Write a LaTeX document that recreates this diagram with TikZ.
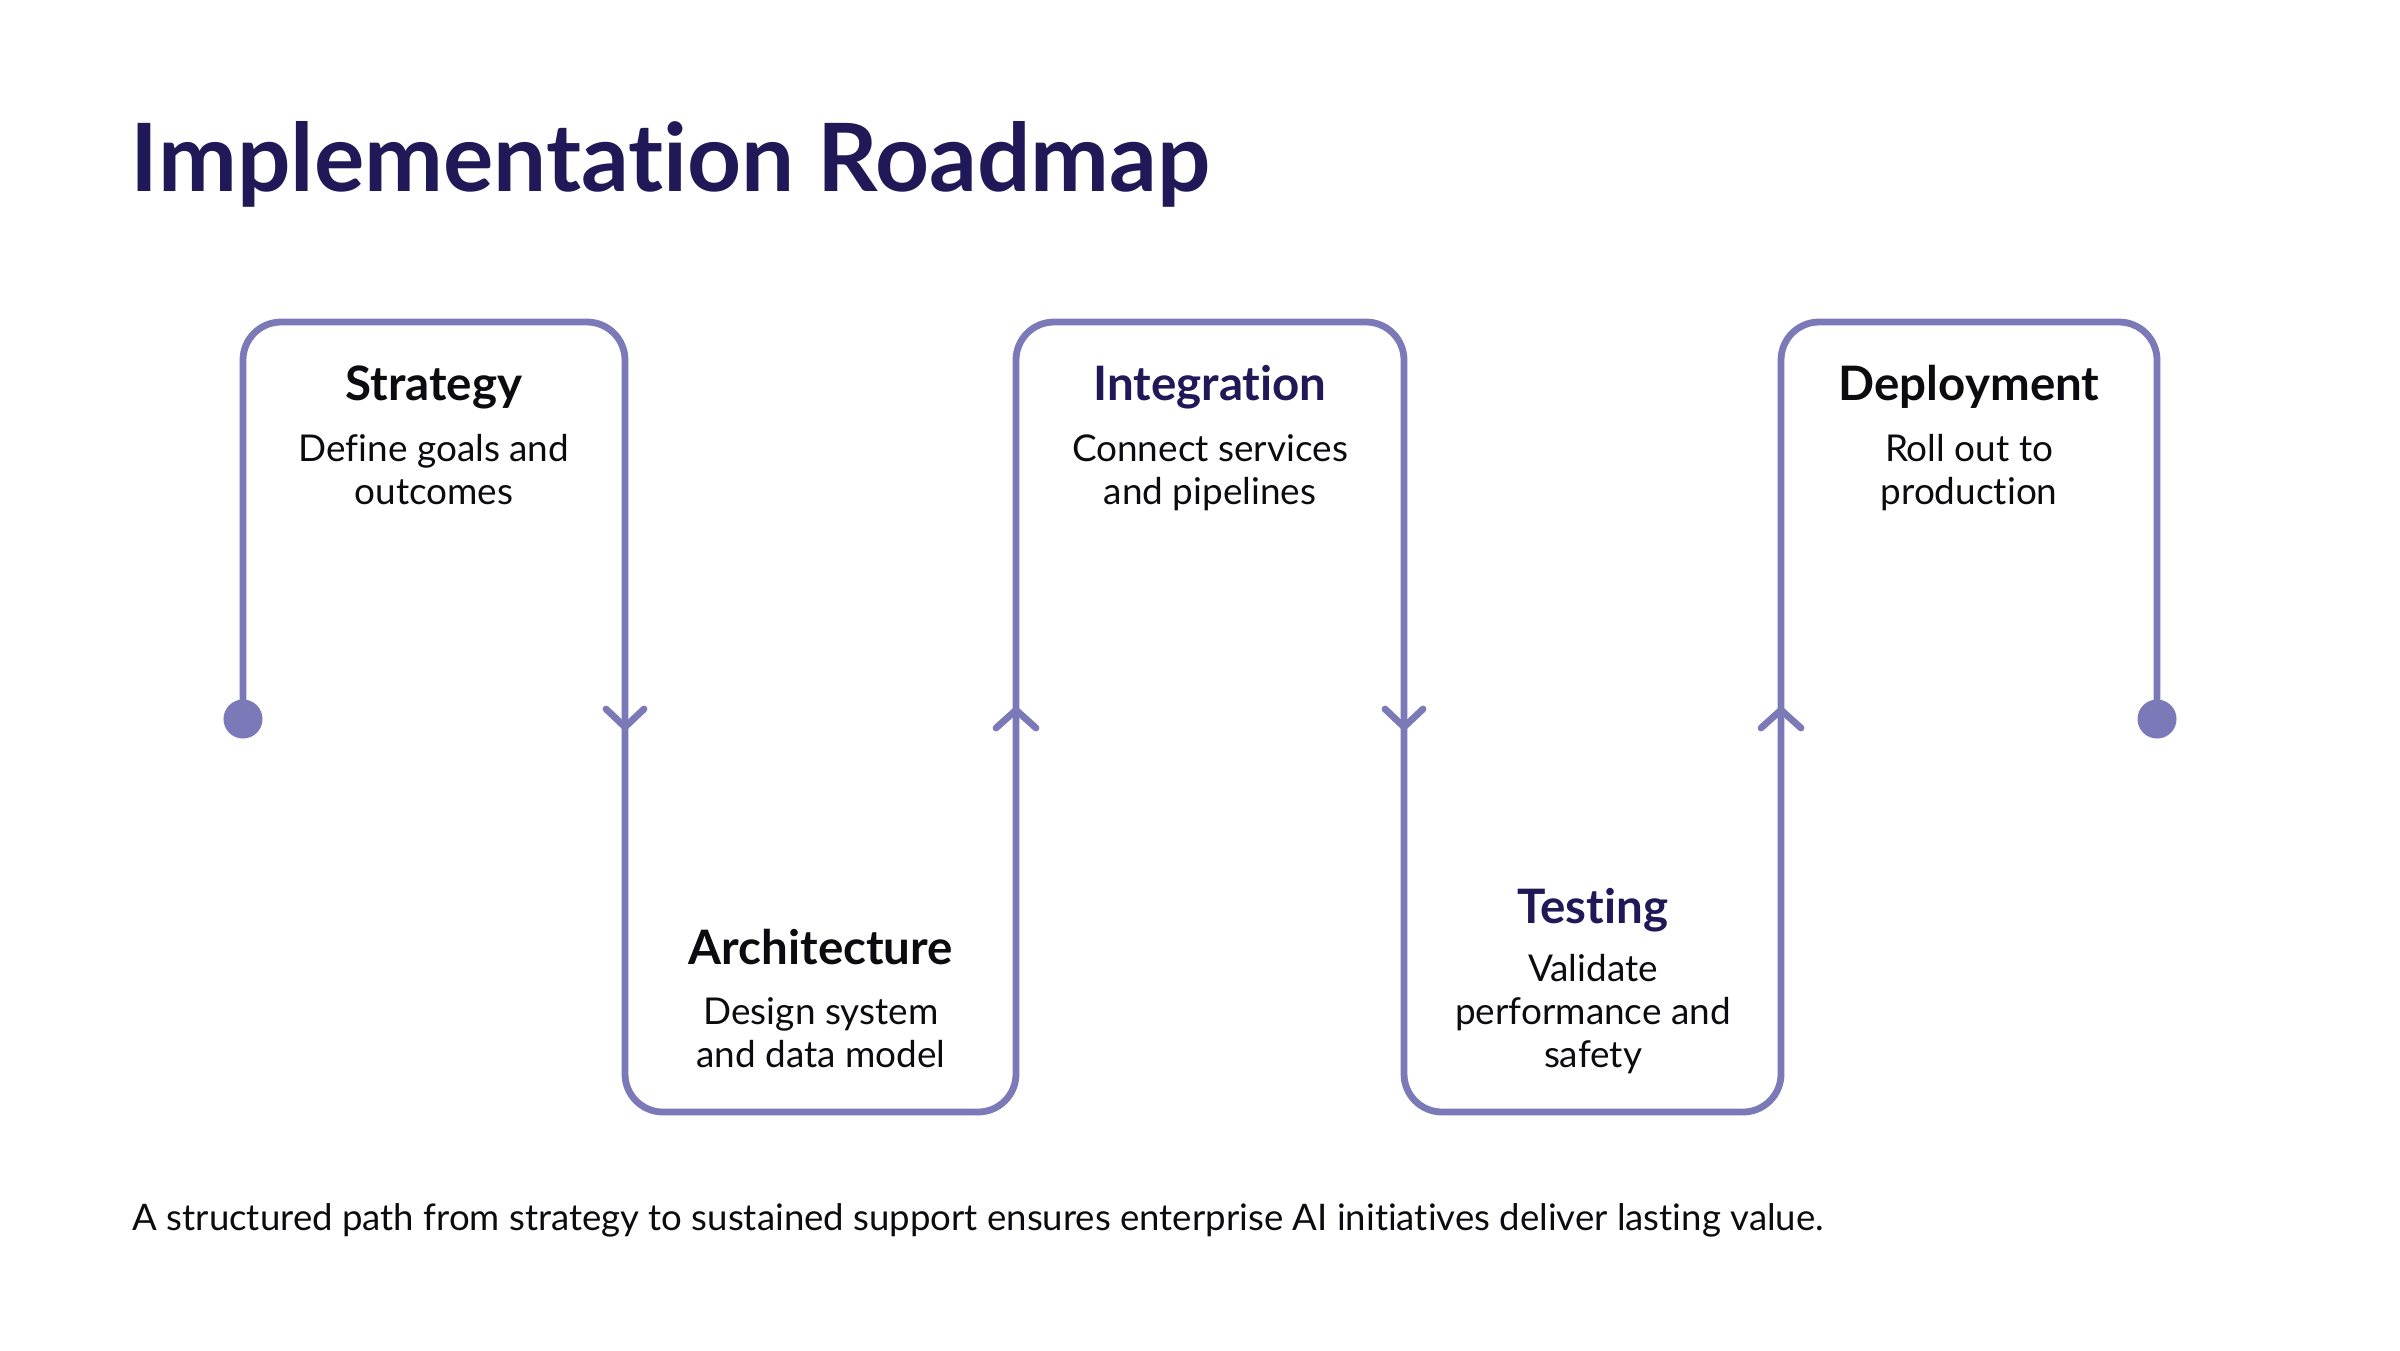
\documentclass[tikz,border=0pt]{standalone}
\usepackage{fontspec}
\setmainfont{Lato}[Ligatures=NoCommon]
\definecolor{lav}{RGB}{124,121,184}
\definecolor{navy}{RGB}{33,24,88}
\definecolor{ink}{RGB}{12,12,16}
\tikzset{
  road/.style={draw=lav, line width=0.068cm, rounded corners=0.38cm, line join=round, line cap=round},
  chev/.style={draw=lav, line width=0.068cm, line cap=round, line join=round},
  dotnode/.style={circle, fill=lav, inner sep=0pt, minimum size=0.39cm},
  maintitle/.style={font=\fontsize{26.8}{32}\selectfont\bfseries, text=navy, inner sep=0pt},
  steptitle/.style={font=\fontsize{13.5}{16}\selectfont\bfseries, text=ink, inner sep=0pt},
  steptitlenavy/.style={steptitle, text=navy},
  stepdesc/.style={font=\fontsize{10.5}{12.1}\selectfont, text=ink, align=center, inner sep=0pt},
  foot/.style={font=\fontsize{10.4}{12}\selectfont, text=ink, inner sep=0pt}
}
\begin{document}
\begin{tikzpicture}[x=0.01cm, y=-0.01cm]
\useasboundingbox[fill=white] (0,0) rectangle (2400,1350);

% title
\node[maintitle, anchor=base west] (title) at (130,191) {Implementation Roadmap};

% end dots
\node[dotnode] (start) at (243,719) {};
\node[dotnode] (finish) at (2157,719) {};

% path corners
\coordinate (c1) at (243,322);
\coordinate (c2) at (625,322);
\coordinate (c3) at (625,1112);
\coordinate (c4) at (1016,1112);
\coordinate (c5) at (1016,322);
\coordinate (c6) at (1404,322);
\coordinate (c7) at (1404,1112);
\coordinate (c8) at (1781,1112);
\coordinate (c9) at (1781,322);
\coordinate (c10) at (2157,322);

\draw[road] (start.center) -- (c1) -- (c2) -- (c3) -- (c4) -- (c5) -- (c6) -- (c7) -- (c8) -- (c9) -- (c10) -- (finish.center);

% direction chevrons
\coordinate (a1) at (625,718);
\coordinate (a2) at (1016,718);
\coordinate (a3) at (1404,718);
\coordinate (a4) at (1781,718);
\draw[chev] ([shift={(-19,-9)}]a1) -- ++(19,18) -- ++(19,-18);
\draw[chev] ([shift={(-20,10)}]a2) -- ++(20,-18) -- ++(20,18);
\draw[chev] ([shift={(-19,-9)}]a3) -- ++(19,18) -- ++(19,-18);
\draw[chev] ([shift={(-20,10)}]a4) -- ++(20,-18) -- ++(20,18);

% step texts (description anchors sit on the last line's baseline)
\node[steptitle, anchor=base] (s1) at (434,400) {Strategy};
\node[stepdesc, anchor=base] (s1d) at (434,504) {Define goals and\\outcomes};

\node[steptitle, anchor=base] (s2) at (821,964) {Architecture};
\node[stepdesc, anchor=base] (s2d) at (821,1067) {Design system\\and data model};

\node[steptitlenavy, anchor=base] (s3) at (1210,400) {Integration};
\node[stepdesc, anchor=base] (s3d) at (1210,504) {Connect services\\and pipelines};

\node[steptitlenavy, anchor=base] (s4) at (1593,923) {Testing};
\node[stepdesc, anchor=base] (s4d) at (1593,1067) {Validate\\performance and\\safety};

\node[steptitle, anchor=base] (s5) at (1969,400) {Deployment};
\node[stepdesc, anchor=base] (s5d) at (1969,504) {Roll out to\\production};

% footer
\node[foot, anchor=base west] (footer) at (132,1230) {A structured path from strategy to sustained support ensures enterprise AI initiatives deliver lasting value.};
\end{tikzpicture}
\end{document}
